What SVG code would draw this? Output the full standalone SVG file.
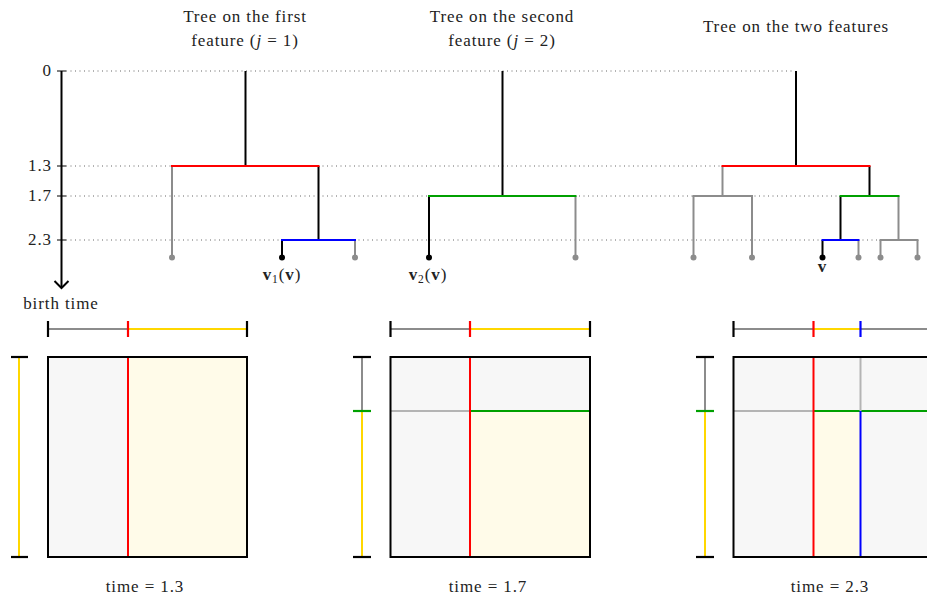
<svg xmlns="http://www.w3.org/2000/svg" width="927" height="601" viewBox="0 0 927 601">
<defs>
<style>
text{font-family:"Liberation Serif","DejaVu Serif",serif;font-size:17px;letter-spacing:0.9px;fill:#222}
.c{text-anchor:middle}
.r{text-anchor:end}
.dot{stroke:#666;stroke-width:1;stroke-dasharray:1 3.5;fill:none}
.k{stroke:#000;stroke-width:2;fill:none}
.g{stroke:#8c8c8c;stroke-width:2;fill:none}
.red{stroke:#ff0000;stroke-width:2;fill:none}
.blu{stroke:#0000ff;stroke-width:2;fill:none}
.grn{stroke:#00a000;stroke-width:2;fill:none}
.yel{stroke:#ffd700;stroke-width:2;fill:none}
.lg{stroke:#b4b4b4;stroke-width:2;fill:none}
.frame{stroke:#000;stroke-width:2;fill:none}
.lk{fill:#000}
.lgd{fill:#8c8c8c}
.tk{stroke:#000;stroke-width:2.2}
</style>
</defs>

<g id="axis">
<line class="dot" x1="66" y1="71" x2="795" y2="71"/>
<line class="dot" x1="66" y1="166" x2="722" y2="166"/>
<line class="dot" x1="66" y1="196" x2="840" y2="196"/>
<line class="dot" x1="66" y1="240" x2="881" y2="240"/>
<line x1="57" y1="71" x2="66" y2="71" stroke="#000" stroke-width="1"/>
<line x1="57" y1="166" x2="66" y2="166" stroke="#000" stroke-width="1"/>
<line x1="57" y1="196" x2="66" y2="196" stroke="#000" stroke-width="1"/>
<line x1="57" y1="240" x2="66" y2="240" stroke="#000" stroke-width="1"/>
<line x1="61.5" y1="71" x2="61.5" y2="287" stroke="#000" stroke-width="2"/>
<path d="M54.5,281 L61.5,288 L68.5,281" stroke="#000" stroke-width="2" fill="none"/>
<text class="r" x="52" y="76">0</text>
<text class="r" x="52" y="171">1.3</text>
<text class="r" x="52" y="201">1.7</text>
<text class="r" x="52" y="245">2.3</text>
<text class="c" x="61" y="309">birth time</text>
</g>

<g id="titles">
<text class="c" x="245" y="22">Tree on the first</text>
<text class="c" x="245" y="46">feature (<tspan font-style="italic">j</tspan> = 1)</text>
<text class="c" x="502" y="22">Tree on the second</text>
<text class="c" x="502" y="46">feature (<tspan font-style="italic">j</tspan> = 2)</text>
<text class="c" x="796" y="32">Tree on the two features</text>
</g>

<g id="tree1">
<line class="k" x1="245.5" y1="71" x2="245.5" y2="166"/>
<line class="g" x1="172" y1="166" x2="172" y2="257"/>
<line class="k" x1="318.5" y1="166" x2="318.5" y2="240"/>
<line class="red" x1="171" y1="166" x2="319.5" y2="166"/>
<line class="k" x1="282" y1="240" x2="282" y2="257"/>
<line class="g" x1="355" y1="240" x2="355" y2="257"/>
<line class="blu" x1="281" y1="240" x2="356" y2="240"/>
<circle class="lgd" cx="172" cy="257.5" r="3"/>
<circle class="lk" cx="282" cy="257.5" r="3"/>
<circle class="lgd" cx="355" cy="257.5" r="3"/>
<text class="c" x="282" y="280"><tspan font-weight="bold">v</tspan><tspan font-size="11.5" dy="3">1</tspan><tspan dy="-3">(</tspan><tspan font-weight="bold">v</tspan>)</text>
</g>

<g id="tree2">
<line class="k" x1="502.5" y1="71" x2="502.5" y2="196"/>
<line class="k" x1="429" y1="196" x2="429" y2="257"/>
<line class="g" x1="575.5" y1="196" x2="575.5" y2="257"/>
<line class="grn" x1="428" y1="196" x2="576.5" y2="196"/>
<circle class="lk" cx="429" cy="257.5" r="3"/>
<circle class="lgd" cx="575.5" cy="257.5" r="3"/>
<text class="c" x="428" y="280"><tspan font-weight="bold">v</tspan><tspan font-size="11.5" dy="3">2</tspan><tspan dy="-3">(</tspan><tspan font-weight="bold">v</tspan>)</text>
</g>

<g id="tree3">
<line class="k" x1="796" y1="71" x2="796" y2="166"/>
<line class="g" x1="722.5" y1="166" x2="722.5" y2="196"/>
<line class="k" x1="869.5" y1="166" x2="869.5" y2="196"/>
<line class="red" x1="721.5" y1="166" x2="870.5" y2="166"/>
<line class="g" x1="693.5" y1="196" x2="693.5" y2="257"/>
<line class="g" x1="752" y1="196" x2="752" y2="257"/>
<line class="g" x1="692.5" y1="196" x2="753" y2="196"/>
<line class="k" x1="840.5" y1="196" x2="840.5" y2="240"/>
<line class="g" x1="898.5" y1="196" x2="898.5" y2="240"/>
<line class="grn" x1="839.5" y1="196" x2="899.5" y2="196"/>
<line class="k" x1="822.5" y1="240" x2="822.5" y2="257"/>
<line class="g" x1="858.5" y1="240" x2="858.5" y2="257"/>
<line class="blu" x1="821.5" y1="240" x2="859.5" y2="240"/>
<line class="g" x1="880.5" y1="240" x2="880.5" y2="257"/>
<line class="g" x1="917.5" y1="240" x2="917.5" y2="257"/>
<line class="g" x1="879.5" y1="240" x2="918.5" y2="240"/>
<circle class="lgd" cx="693.5" cy="257.5" r="3"/>
<circle class="lgd" cx="752" cy="257.5" r="3"/>
<circle class="lk" cx="822.5" cy="257.5" r="3"/>
<circle class="lgd" cx="858.5" cy="257.5" r="3"/>
<circle class="lgd" cx="880.5" cy="257.5" r="3"/>
<circle class="lgd" cx="917.5" cy="257.5" r="3"/>
<text class="c" x="822.5" y="272" font-weight="bold">v</text>
</g>

<g id="panel1">
<rect x="48" y="357" width="200" height="200" fill="#f7f7f7"/>
<rect x="128" y="357" width="120" height="200" fill="#fffbe9"/>
<line class="g" x1="48" y1="329" x2="128" y2="329"/>
<line class="yel" x1="128" y1="329" x2="247" y2="329"/>
<line class="tk" x1="48" y1="321" x2="48" y2="337"/>
<line x1="128" y1="321" x2="128" y2="337" stroke="#ff0000" stroke-width="2.2"/>
<line class="tk" x1="247" y1="321" x2="247" y2="337"/>
<line class="yel" x1="19" y1="357" x2="19" y2="557"/>
<line class="tk" x1="11" y1="357" x2="28" y2="357"/>
<line class="tk" x1="11" y1="557" x2="28" y2="557"/>
<line class="red" x1="128" y1="357" x2="128" y2="557"/>
<rect class="frame" x="48" y="357" width="199" height="200"/>
<text class="c" x="145" y="592">time = 1.3</text>
</g>

<g id="panel2">
<rect x="390" y="357" width="200" height="200" fill="#f7f7f7"/>
<rect x="470" y="411" width="120" height="146" fill="#fffbe9"/>
<line class="g" x1="390" y1="329" x2="470" y2="329"/>
<line class="yel" x1="470" y1="329" x2="590" y2="329"/>
<line class="tk" x1="390.5" y1="321" x2="390.5" y2="337"/>
<line x1="470" y1="321" x2="470" y2="337" stroke="#ff0000" stroke-width="2.2"/>
<line class="tk" x1="590" y1="321" x2="590" y2="337"/>
<line class="g" x1="362" y1="357" x2="362" y2="411"/>
<line class="yel" x1="362" y1="411" x2="362" y2="557"/>
<line class="tk" x1="353" y1="357" x2="371" y2="357"/>
<line x1="353" y1="411" x2="371" y2="411" stroke="#00a000" stroke-width="2.2"/>
<line class="tk" x1="353" y1="557" x2="371" y2="557"/>
<line class="lg" x1="390" y1="411" x2="470" y2="411"/>
<line class="grn" x1="470" y1="411" x2="590" y2="411"/>
<line class="red" x1="470" y1="357" x2="470" y2="557"/>
<rect class="frame" x="390.5" y="357" width="199.5" height="200"/>
<text class="c" x="488" y="592">time = 1.7</text>
</g>

<g id="panel3">
<rect x="733" y="357" width="200" height="200" fill="#f7f7f7"/>
<rect x="813" y="411" width="47" height="146" fill="#fffbe9"/>
<line class="g" x1="733" y1="329" x2="813" y2="329"/>
<line class="yel" x1="813" y1="329" x2="860" y2="329"/>
<line class="g" x1="860" y1="329" x2="935" y2="329"/>
<line class="tk" x1="733.5" y1="321" x2="733.5" y2="337"/>
<line x1="813.5" y1="321" x2="813.5" y2="337" stroke="#ff0000" stroke-width="2.2"/>
<line x1="860.5" y1="321" x2="860.5" y2="337" stroke="#0000ff" stroke-width="2.2"/>
<line class="g" x1="705" y1="357" x2="705" y2="411"/>
<line class="yel" x1="705" y1="411" x2="705" y2="557"/>
<line class="tk" x1="696" y1="357" x2="714" y2="357"/>
<line x1="696" y1="411" x2="714" y2="411" stroke="#00a000" stroke-width="2.2"/>
<line class="tk" x1="696" y1="557" x2="714" y2="557"/>
<line class="lg" x1="733" y1="411" x2="813" y2="411"/>
<line class="grn" x1="813" y1="411" x2="935" y2="411"/>
<line class="lg" x1="860.5" y1="357" x2="860.5" y2="411"/>
<line class="blu" x1="860.5" y1="411" x2="860.5" y2="557"/>
<line class="red" x1="813.5" y1="357" x2="813.5" y2="557"/>
<rect class="frame" x="733.5" y="357" width="200" height="200"/>
<text class="c" x="830" y="592">time = 2.3</text>
</g>
</svg>
